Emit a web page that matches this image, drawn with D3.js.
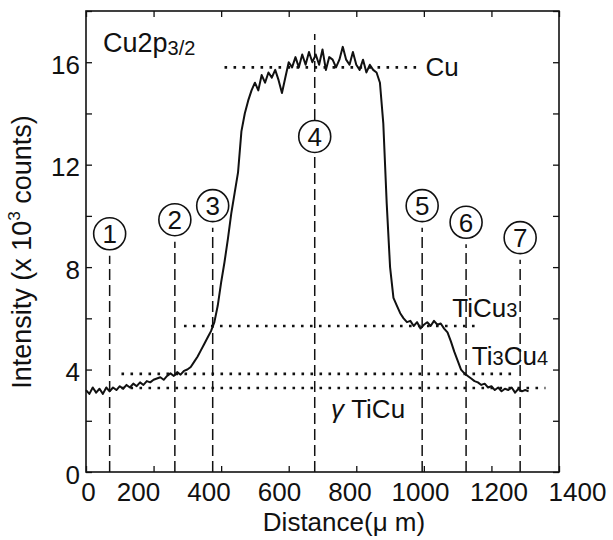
<!DOCTYPE html>
<html>
<head>
<meta charset="utf-8">
<script src="https://cdn.jsdelivr.net/npm/d3@7"></script>
<style>
  body { margin: 0; background: #fff; }
  svg { font-family: "Liberation Sans", Arial, sans-serif; }
</style>
</head>
<body>
<svg id="chart" width="613" height="540"></svg>
<script>
// line profile across the joint, Cu2p3/2 signal (x 10^3 counts)
const distance = [
  0, 10, 20, 30, 40, 50, 60, 70, 80, 90,
  100, 110, 120, 130, 140, 150, 160, 170, 180, 190,
  200, 210, 220, 230, 240, 250, 260, 270, 280, 290,
  300, 310, 320, 330, 340, 350, 360, 370, 380, 390,
  400, 410, 420, 430, 440, 450, 460, 470, 480, 490,
  500, 510, 520, 530, 540, 550, 560, 570, 580, 590,
  600, 610, 620, 630, 640, 650, 660, 670, 680, 690,
  700, 710, 720, 730, 740, 750, 760, 770, 780, 790,
  800, 810, 820, 830, 840, 850, 860, 870, 880, 890,
  900, 910, 920, 930, 940, 950, 960, 970, 980, 990,
  1000, 1010, 1020, 1030, 1040, 1050, 1060, 1070, 1080, 1090,
  1100, 1110, 1120, 1130, 1140, 1150, 1160, 1170, 1180, 1190,
  1200, 1210, 1220, 1230, 1240, 1250, 1260, 1270, 1280, 1290,
  1300, 1310
];
const intensity = [
  3.2, 3.05, 3.3, 3.1, 3.25, 3.05, 3.3, 3.15, 3.3, 3.2,
  3.35, 3.25, 3.4, 3.3, 3.45, 3.35, 3.5, 3.4, 3.55, 3.5,
  3.6, 3.65, 3.7, 3.6, 3.75, 3.85, 3.75, 3.9, 3.8, 3.95,
  4.0, 4.1, 4.3, 4.5, 4.75, 5.0, 5.25, 5.5, 5.85, 6.5,
  7.4, 8.2, 9.1, 10.1, 10.9, 11.7, 13.3, 14.0, 14.5, 14.9,
  15.2, 14.9, 15.5, 15.2, 15.6, 15.4, 15.7, 15.3, 14.8, 15.4,
  16.0, 15.8, 16.2, 15.8, 16.3, 15.9, 16.4, 16.0, 16.3, 15.9,
  16.5, 15.7, 16.2, 16.1, 15.8, 16.1, 16.6, 16.1, 15.9, 16.4,
  15.9, 15.7, 16.1, 15.6, 15.9, 15.7, 15.6, 15.2, 13.6, 10.5,
  8.0, 6.8, 6.5, 6.2, 6.0, 5.85, 5.9, 5.7, 5.85, 5.6,
  5.75, 5.85, 5.7, 5.9, 5.75, 5.8, 5.6, 5.45, 5.1, 4.7,
  4.35, 4.0, 3.85, 3.75, 3.65, 3.55, 3.5, 3.4, 3.45, 3.3,
  3.35, 3.2, 3.3, 3.15, 3.25, 3.2, 3.3, 3.1, 3.25, 3.15,
  3.2, 3.15
];

// numbered analysis points
const pointLabels = ["1", "2", "3", "4", "5", "6", "7"];
const pointDistance = [70, 263, 375, 677, 995, 1125, 1285];
const pointLevel = [9.3, 9.85, 10.4, 13.1, 10.4, 9.75, 9.15];

// reference levels of the phases
const phaseNames = ["Cu", "TiCu3", "Ti3Cu4", "γTiCu"];
const phaseLevel = [15.8, 5.7, 3.83, 3.28];
const phaseFrom = [410, 290, 105, 105];
const phaseTo = [990, 1165, 1270, 1360];

const xTicks = [0, 200, 400, 600, 800, 1000, 1200, 1400];
const yTicks = [0, 4, 8, 12, 16];

const svg = d3.select("#chart");

const x = d3.scaleLinear().domain([0, 1400]).range([86, 559]);
const y = d3.scaleLinear().domain([0, 18]).range([472, 11]);
// the scanned tick labels sit a little off their ticks
const xLabel = d3.scaleLinear()
  .domain([0, 200, 1000, 1400])
  .range([88, 138, 420, 577]);

// dashed markers
const markers = pointLabels.map((l, i) => ({
  label: l, d: pointDistance[i], lev: pointLevel[i]
}));

svg.append("g")
  .selectAll("line")
  .data(markers)
  .join("line")
  .attr("x1", (d) => x(d.d))
  .attr("x2", (d) => x(d.d))
  .attr("y1", y(0))
  .attr("y2", (d) => (d.label === "4" ? y(17.1) : y(d.lev) + 22))
  .attr("stroke", "#111")
  .attr("stroke-width", 1.5)
  .attr("stroke-dasharray", "11,5");

// phase levels, dotted
const phases = phaseNames.map((n, i) => ({
  name: n, lev: phaseLevel[i], from: phaseFrom[i], to: phaseTo[i]
}));

svg.append("g")
  .selectAll("line")
  .data(phases)
  .join("line")
  .attr("x1", (d) => x(d.from))
  .attr("x2", (d) => x(d.to))
  .attr("y1", (d) => y(d.lev))
  .attr("y2", (d) => y(d.lev))
  .attr("stroke", "#111")
  .attr("stroke-width", 2.6)
  .attr("stroke-dasharray", "2.6,6.4");

// profile
const line = d3.line()
  .x((d, i) => x(distance[i]))
  .y((d) => y(d));

svg.append("path")
  .datum(intensity)
  .attr("fill", "none")
  .attr("stroke", "#111")
  .attr("stroke-width", 2)
  .attr("stroke-linejoin", "round")
  .attr("d", line);

// circled numbers
const circ = svg.append("g")
  .selectAll("g")
  .data(markers)
  .join("g")
  .attr("transform", (d) => `translate(${x(d.d)},${y(d.lev)})`);

circ.append("circle")
  .attr("r", 16)
  .attr("fill", "#fff")
  .attr("stroke", "#111")
  .attr("stroke-width", 1.6);

circ.append("text")
  .attr("text-anchor", "middle")
  .attr("dy", "0.36em")
  .attr("font-size", 26)
  .attr("fill", "#111")
  .text((d) => d.label);

// frame with inward ticks on all sides
svg.append("rect")
  .attr("x", x(0))
  .attr("y", y(18))
  .attr("width", x(1400) - x(0))
  .attr("height", y(0) - y(18))
  .attr("fill", "none")
  .attr("stroke", "#111")
  .attr("stroke-width", 1.6);

const minorX = d3.range(0, 1401, 200);
const minorY = d3.range(0, 19, 2);

svg.append("g")
  .attr("transform", `translate(0,${y(0)})`)
  .call(d3.axisTop(x).tickValues(minorX).tickSize(6).tickFormat(""))
  .call((g) => g.select(".domain").remove());
svg.append("g")
  .attr("transform", `translate(0,${y(18)})`)
  .call(d3.axisBottom(x).tickValues(minorX).tickSize(6).tickFormat(""))
  .call((g) => g.select(".domain").remove());
svg.append("g")
  .attr("transform", `translate(${x(0)},0)`)
  .call(d3.axisRight(y).tickValues(minorY).tickSize(6).tickFormat(""))
  .call((g) => g.select(".domain").remove());
svg.append("g")
  .attr("transform", `translate(${x(1400)},0)`)
  .call(d3.axisLeft(y).tickValues(minorY).tickSize(6).tickFormat(""))
  .call((g) => g.select(".domain").remove());

svg.selectAll(".tick line").attr("stroke", "#111").attr("stroke-width", 1.3);

// tick labels
svg.append("g")
  .attr("transform", `translate(0,${y(0) + 8})`)
  .call(d3.axisBottom(xLabel).tickValues(xTicks).tickSize(0).tickFormat(d3.format("d")))
  .call((g) => g.select(".domain").remove())
  .selectAll("text")
  .attr("font-size", 26)
  .attr("font-family", "Liberation Sans, Arial, sans-serif")
  .attr("fill", "#111");

svg.append("g")
  .attr("transform", `translate(${x(0) - 3},3)`)
  .call(d3.axisLeft(y).tickValues(yTicks).tickSize(0).tickFormat(d3.format("d")))
  .call((g) => g.select(".domain").remove())
  .selectAll("text")
  .attr("font-size", 26)
  .attr("font-family", "Liberation Sans, Arial, sans-serif")
  .attr("fill", "#111");

// axis titles
svg.append("text")
  .attr("x", 344)
  .attr("y", 531)
  .attr("text-anchor", "middle")
  .attr("font-size", 26)
  .attr("fill", "#111")
  .text("Distance(μ m)");

const yt = svg.append("text")
  .attr("transform", "translate(31,252) rotate(-90)")
  .attr("text-anchor", "middle")
  .attr("font-size", 27)
  .attr("fill", "#111");
yt.append("tspan").text("Intensity (x 10");
yt.append("tspan").attr("font-size", 17).attr("dy", -11).text("3");
yt.append("tspan").attr("dy", 11).text(" counts)");

// annotations
const title = svg.append("text")
  .attr("x", 103)
  .attr("y", 52)
  .attr("font-size", 27)
  .attr("fill", "#111");
title.append("tspan").text("Cu2p");
title.append("tspan").attr("font-size", 20).attr("dy", 3).text("3/2");

function phaseLabel(px, py, parts) {
  const t = svg.append("text")
    .attr("x", px)
    .attr("y", py)
    .attr("font-size", 26)
    .attr("fill", "#111");
  parts.forEach(([s, sub, it]) => {
    t.append("tspan")
      .attr("font-size", sub ? 20 : 26)
      .attr("font-style", it ? "italic" : null)
      .text(s);
  });
}

phaseLabel(x(1005), y(phaseLevel[0]) + 9, [["Cu"]]);
phaseLabel(x(1084), y(phaseLevel[1]) - 9, [["TiCu"], ["3", true]]);
phaseLabel(x(1142), y(phaseLevel[2]) - 9, [["Ti"], ["3", true], ["Cu"], ["4", true]]);
phaseLabel(x(725), y(phaseLevel[3]) + 30, [["γ", false, true], [" TiCu"]]);
</script>
</body>
</html>
